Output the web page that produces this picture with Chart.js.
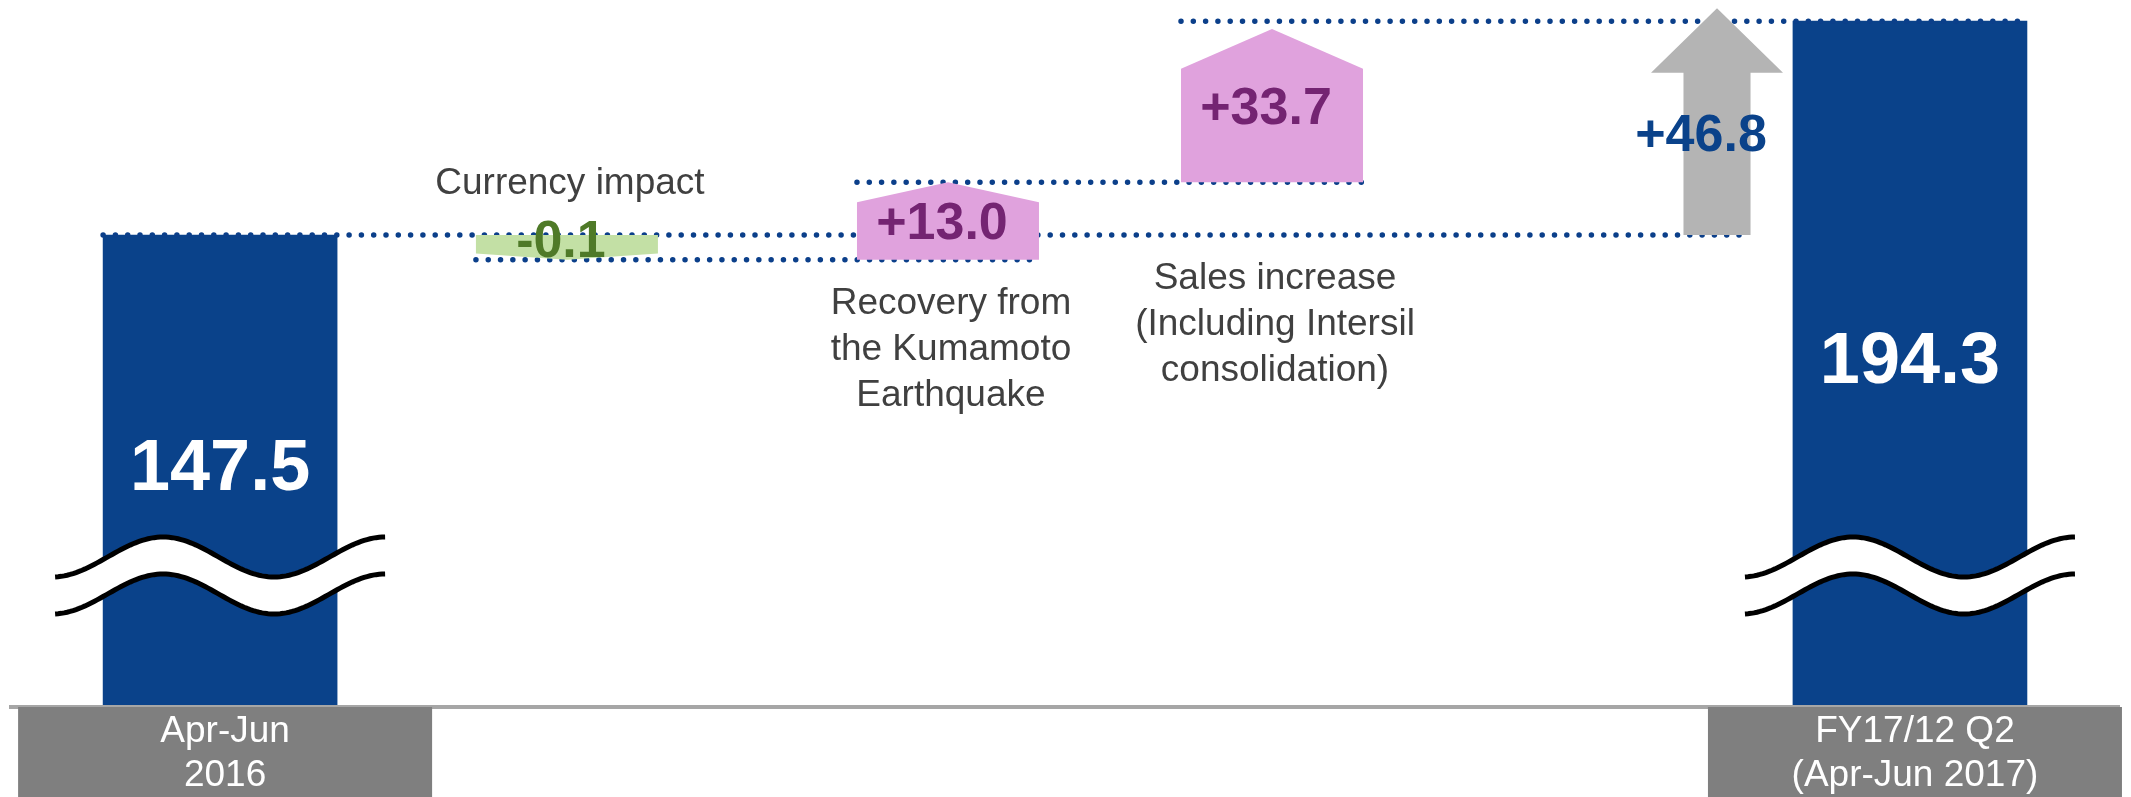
<!DOCTYPE html>
<html>
<head>
<meta charset="utf-8">
<title>Sales revenue bridge</title>
<script src="https://cdn.jsdelivr.net/npm/chart.js@4.4.1/dist/chart.umd.min.js"></script>
<style>
  body { margin: 0; background: #fff; }
  #myChart { display: block; }
</style>
</head>
<body>
<canvas id="myChart" width="2131" height="797"></canvas>
<script>
// ----------- DATA ------------
const categories = [
  ["Apr-Jun", "2016"],
  ["Currency impact"],
  ["Recovery from", "the Kumamoto", "Earthquake"],
  ["Sales increase", "(Including Intersil", "consolidation)"],
  [],
  ["FY17/12 Q2", "(Apr-Jun 2017)"],
];
const startValue = 147.5;
const changes = [-0.1, 13.0, 33.7];
const totalChange = 46.8;
const endValue = 194.3;

// running levels of the bridge: 147.5, 147.4, 160.4, 194.1
const levels = [startValue];
changes.forEach((c) => {
  levels.push(Math.round((levels[levels.length - 1] + c) * 10) / 10);
});

// ----------- LAYOUT ------------
// the slide is not drawn to scale (broken axis), so the y scale is piecewise
const yBreakValues = [0, levels[1], levels[0], levels[2], levels[3], endValue];
const yBreakFrac = [0, 0.632, 0.667, 0.742, 0.959, 0.970];
// horizontal centre of each column, as a share of the plot width
const xSlot = [0.1, 0.2643, 0.4448, 0.5983, 0.8091, 0.9005];

const navy = "#0a428a";
const dotColor = "#0b3f8a";
const FONT = "'Liberation Sans', Arial, sans-serif";

// ----------- SCALES ------------
class SlotScale extends Chart.CategoryScale {
  getPixelForValue(value) {
    if (typeof value !== "number") value = this.parse(value);
    return this.left + xSlot[value] * this.width;
  }
}
SlotScale.id = "slot";
SlotScale.defaults = Chart.CategoryScale.defaults;

class BrokenScale extends Chart.LinearScale {
  getPixelForValue(value) {
    if (value === null || value === undefined) return NaN;
    const v = yBreakValues;
    let i = 1;
    while (i < v.length - 1 && value > v[i]) i++;
    const t = (value - v[i - 1]) / (v[i] - v[i - 1]);
    const frac = yBreakFrac[i - 1] + t * (yBreakFrac[i] - yBreakFrac[i - 1]);
    return this.bottom - frac * (this.bottom - this.top);
  }
}
BrokenScale.id = "broken";
BrokenScale.defaults = Chart.LinearScale.defaults;

Chart.register(SlotScale, BrokenScale);

// ----------- HELPERS ------------
function dotted(c, x1, x2, y) {
  c.save();
  c.strokeStyle = dotColor;
  c.lineWidth = 5.5;
  c.lineCap = "round";
  c.setLineDash([0, 12.3]);
  c.beginPath();
  c.moveTo(x1, y);
  c.lineTo(x2, y);
  c.stroke();
  c.restore();
}

function waveBreak(c, cx, yMid) {
  const half = 165, amp = 20, period = 222, gap = 37;
  const curve = (off) => {
    const pts = [];
    for (let dx = -half; dx <= half; dx += 3) {
      pts.push([cx + dx, yMid + off - amp * Math.cos((2 * Math.PI * (dx + half - 108)) / period)]);
    }
    return pts;
  };
  const up = curve(0);
  const low = curve(gap);
  c.save();
  c.fillStyle = "#fff";
  c.beginPath();
  up.forEach((p, i) => (i ? c.lineTo(p[0], p[1]) : c.moveTo(p[0], p[1])));
  low.slice().reverse().forEach((p) => c.lineTo(p[0], p[1]));
  c.closePath();
  c.fill();
  c.strokeStyle = "#000";
  c.lineWidth = 5;
  [up, low].forEach((pts) => {
    c.beginPath();
    pts.forEach((p, i) => (i ? c.lineTo(p[0], p[1]) : c.moveTo(p[0], p[1])));
    c.stroke();
  });
  c.restore();
}

function textLines(c, lines, x, y0, step) {
  lines.forEach((t, i) => c.fillText(t, x, y0 + i * step));
}

function fmt(v, signed) {
  return (signed && v > 0 ? "+" : "") + v.toFixed(1);
}

// ----------- PLUGIN: shapes, connectors, labels ------------
const bridgeDecor = {
  id: "bridgeDecor",
  afterDatasetsDraw(chart) {
    const c = chart.ctx;
    const area = chart.chartArea;
    const yScale = chart.scales.y;
    const totals = chart.getDatasetMeta(0).data;
    const steps = chart.getDatasetMeta(1).data;
    const arrow = chart.getDatasetMeta(2).data[4];
    const last = categories.length - 1;
    const L = (el) => el.x - el.width / 2;
    const R = (el) => el.x + el.width / 2;
    const shaftHalf = arrow.width * 0.254;

    // dotted connectors
    const yStart = yScale.getPixelForValue(startValue);
    dotted(c, L(totals[0]), arrow.x + shaftHalf - 5, yStart);
    for (let j = 0; j < changes.length - 1; j++) {
      dotted(c, L(steps[j + 1]), R(steps[j + 2]), yScale.getPixelForValue(levels[j + 1]));
    }
    dotted(c, L(steps[changes.length]), R(totals[last]) - 8, yScale.getPixelForValue(endValue));

    // step shapes: house for a rise, chevron for a fall
    changes.forEach((v, j) => {
      const el = steps[j + 1];
      const top = Math.min(el.y, el.base);
      const bot = Math.max(el.y, el.base);
      const roof = (bot - top) * 0.26;
      const l = L(el), r = R(el);
      c.save();
      c.fillStyle = v < 0 ? "#c3e0a5" : "#e0a2dd";
      c.beginPath();
      if (v < 0) {
        c.moveTo(l, top); c.lineTo(r, top); c.lineTo(r, bot - roof);
        c.lineTo(el.x, bot); c.lineTo(l, bot - roof);
      } else {
        c.moveTo(l, bot); c.lineTo(l, top + roof); c.lineTo(el.x, top);
        c.lineTo(r, top + roof); c.lineTo(r, bot);
      }
      c.closePath();
      c.fill();
      c.restore();
    });

    // total change arrow
    const tip = arrow.y - 13;
    const headBase = tip + arrow.width * 0.49;
    c.save();
    c.fillStyle = "#b4b4b4";
    c.beginPath();
    c.moveTo(arrow.x, tip);
    c.lineTo(R(arrow), headBase);
    c.lineTo(arrow.x + shaftHalf, headBase);
    c.lineTo(arrow.x + shaftHalf, arrow.base);
    c.lineTo(arrow.x - shaftHalf, arrow.base);
    c.lineTo(arrow.x - shaftHalf, headBase);
    c.lineTo(L(arrow), headBase);
    c.closePath();
    c.fill();
    c.restore();

    // axis line
    c.save();
    c.strokeStyle = "#a6a6a6";
    c.lineWidth = 4;
    c.beginPath();
    c.moveTo(area.left, area.bottom + 1);
    c.lineTo(area.right, area.bottom + 1);
    c.stroke();
    c.restore();

    c.save();
    c.textAlign = "center";
    c.textBaseline = "middle";

    // totals: break marks, values, gray category boxes
    [0, last].forEach((i) => {
      const el = totals[i];
      waveBreak(c, el.x, area.bottom - 149);
      c.fillStyle = "#fff";
      c.font = "bold 72px " + FONT;
      c.fillText(fmt(i === 0 ? startValue : endValue, false), el.x, (el.y + el.base) / 2);
      const bx = el.x + 5;
      c.fillStyle = "#7f7f7f";
      c.fillRect(bx - 207, area.bottom + 1, 414, chart.height - area.bottom);
      c.fillStyle = "#fff";
      c.font = "37px " + FONT;
      textLines(c, categories[i], bx, area.bottom + 26, 44);
    });

    // step values and descriptions
    changes.forEach((v, j) => {
      const el = steps[j + 1];
      const mid = (el.y + el.base) / 2;
      c.font = "bold 52px " + FONT;
      c.fillStyle = v < 0 ? "#4f7a28" : "#742472";
      c.fillText(fmt(v, true), el.x - 6, mid + (v < 0 ? -5 : 4));

      c.font = "37px " + FONT;
      c.fillStyle = "#404040";
      const lines = categories[j + 1];
      if (v < 0) {
        textLines(c, lines, el.x + 3, Math.min(el.y, el.base) - 51 - (lines.length - 1) * 46, 46);
      } else {
        textLines(c, lines, el.x + 3, Math.max(el.base, yStart) + 44, 46);
      }
    });

    // total change value
    c.font = "bold 52px " + FONT;
    c.fillStyle = navy;
    c.fillText(fmt(totalChange, true), arrow.x - 16, (arrow.y + arrow.base) / 2 + 9);
    c.restore();
  },
};

// ----------- CHART ------------
const blank = () => categories.map(() => null);

const totalData = blank();
totalData[0] = [0, startValue];
totalData[categories.length - 1] = [0, endValue];

const stepData = blank();
changes.forEach((v, j) => {
  stepData[j + 1] = [levels[j], levels[j + 1]];
});

const changeData = blank();
changeData[4] = [startValue, startValue + totalChange];

const ctx = document.getElementById("myChart").getContext("2d");
const chart = new Chart(ctx, {
  type: "bar",
  data: {
    labels: categories.map((c) => c.join(" ")),
    datasets: [
      {
        label: "Sales",
        data: totalData,
        backgroundColor: navy,
        barThickness: 234,
        grouped: false,
      },
      {
        label: "Changes",
        data: stepData,
        backgroundColor: "rgba(0,0,0,0)",
        barThickness: 182,
        grouped: false,
      },
      {
        label: "Total change",
        data: changeData,
        backgroundColor: "rgba(0,0,0,0)",
        barThickness: 132,
        grouped: false,
      },
    ],
  },
  options: {
    responsive: false,
    animation: false,
    events: [],
    layout: { padding: { left: 9, right: 11, top: 0, bottom: 91 } },
    plugins: { legend: { display: false }, tooltip: { enabled: false } },
    scales: {
      x: { type: "slot", display: false, grid: { display: false } },
      y: { type: "broken", display: false, min: 0, max: 200, grid: { display: false } },
    },
  },
  plugins: [bridgeDecor],
});
</script>
</body>
</html>
